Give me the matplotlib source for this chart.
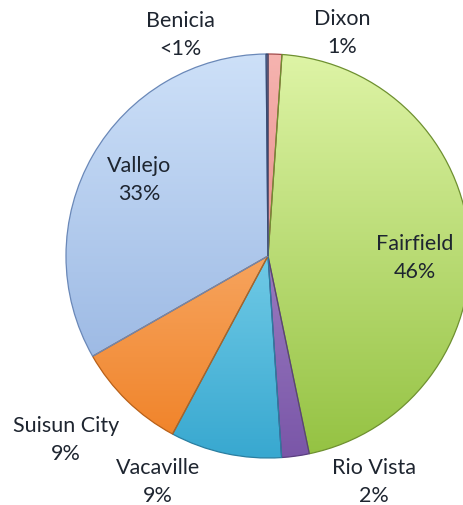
import matplotlib
matplotlib.use("Agg")
import matplotlib.pyplot as plt
import numpy as np
from matplotlib.colors import LinearSegmentedColormap

cities = ["Dixon", "Fairfield", "Rio Vista", "Vacaville", "Suisun City", "Vallejo", "Benicia"]
shares = [1.1, 45.6, 2.2, 8.9, 8.9, 33.1, 0.15]
pct_labels = ["1%", "46%", "2%", "9%", "9%", "33%", "<1%"]
top_colors = ["#f6b4b0", "#def4a6", "#b8a0d8", "#a8ecfc", "#fcc898", "#cde0f8", "#7a94c0"]
bottom_colors = ["#d86a68", "#94c242", "#7a56a8", "#38a8d0", "#f08024", "#8eaede", "#4a6aa0"]
edge_colors = ["#a04848", "#6e9030", "#5a3e80", "#2a7ea0", "#b86018", "#6a88b8", "#3a4a70"]

# label anchor positions (pixels from top-left)
label_pos = {
    "Dixon": (342, 33), "Fairfield": (415, 258), "Rio Vista": (374, 482),
    "Vacaville": (158, 482), "Suisun City": (66, 440), "Vallejo": (139, 180),
    "Benicia": (180, 35),
}

W, H = 463, 506
fig = plt.figure(figsize=(W / 100, H / 100), dpi=100)
ax = fig.add_axes([0, 0, 1, 1])

cx, cy, r = 268, H - 257, 202
wedges, _ = ax.pie(shares, startangle=90, counterclock=False, center=(cx, cy),
                   radius=r, frame=True,
                   wedgeprops=dict(linewidth=0.9))
ax.set_xlim(0, W)
ax.set_ylim(0, H)
ax.axis("off")

yy = np.linspace(1, 0, 256).reshape(-1, 1)
grad = np.repeat(yy, 2, axis=1)
for w, tc, bc, ec in zip(wedges, top_colors, bottom_colors, edge_colors):
    cmap = LinearSegmentedColormap.from_list("g", [bc, tc])
    w.set_facecolor("none")
    w.set_edgecolor(ec)
    w.set_zorder(3)
    im = ax.imshow(grad, cmap=cmap, extent=[cx - r, cx + r, cy - r, cy + r],
                   origin="upper", aspect="auto", zorder=2, vmin=0, vmax=1)
    im.set_clip_path(w)

for name, pct in zip(cities, pct_labels):
    px, py = label_pos[name]
    ax.text(px, H - py, f"{name}\n{pct}", ha="center", va="center",
            fontsize=15.5, family=["Lato", "DejaVu Sans"], color="#1e2530",
            linespacing=1.5, zorder=5)

fig.savefig("out.png", dpi=100)
